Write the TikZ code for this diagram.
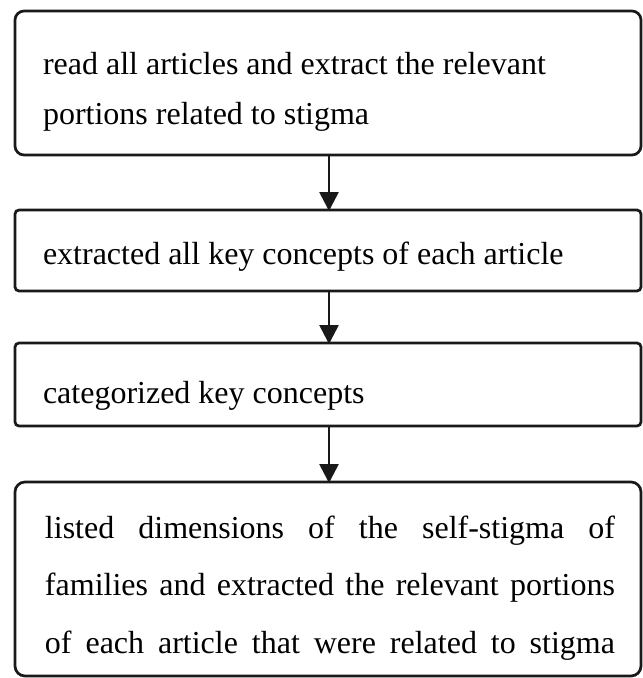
\documentclass[tikz,border=0pt]{standalone}
\usepackage{fontspec}
\setmainfont{Liberation Serif}
\usetikzlibrary{arrows.meta}
\begin{document}
\begin{tikzpicture}[x=1pt,y=-1pt,
  box/.style={draw=black!90, line width=2.7pt, inner sep=0pt, outer sep=0pt, fill=white},
  txt/.style={inner sep=0pt, outer sep=0pt, anchor=base west, font=\fontsize{32}{50}\selectfont},
  conn/.style={draw=black!90, line width=2.7pt, -{Triangle[width=19pt,length=19pt]}, shorten >=-1pt}]
\useasboundingbox (0,0) rectangle (643,678);
% boxes
\node[box, rounded corners=9pt, minimum width=626pt, minimum height=144pt] (b1) at (328,83) {};
\node[box, rounded corners=4pt, minimum width=626pt, minimum height=81pt] (b2) at (328,250.5) {};
\node[box, rounded corners=4pt, minimum width=626pt, minimum height=83pt] (b3) at (328,384.5) {};
\node[box, rounded corners=10pt, minimum width=626pt, minimum height=194pt] (b4) at (328,579) {};
% texts
\node[txt, text width=580pt, align=flush left] (t1) at (43,74) {read all articles and extract the relevant\\portions related to stigma};
\node[txt] (t2) at (43,264) {extracted all key concepts of each article};
\node[txt] (t3) at (43,403) {categorized key concepts};
\node[txt, text width=570pt, align=justify, font=\fontsize{32}{57.5}\selectfont] (t4) at (45,538)
  {\hyphenpenalty=10000 \parfillskip=0pt listed dimensions of the self-stigma of\linebreak families and extracted the relevant portions\linebreak of each article that were related to stigma\par};
% connectors
\draw[conn] (b1.south -| 329,0) -- (b2.north -| 329,0);
\draw[conn] (b2.south -| 329,0) -- (b3.north -| 329,0);
\draw[conn] (b3.south -| 329,0) -- (b4.north -| 329,0);
\end{tikzpicture}
\end{document}
